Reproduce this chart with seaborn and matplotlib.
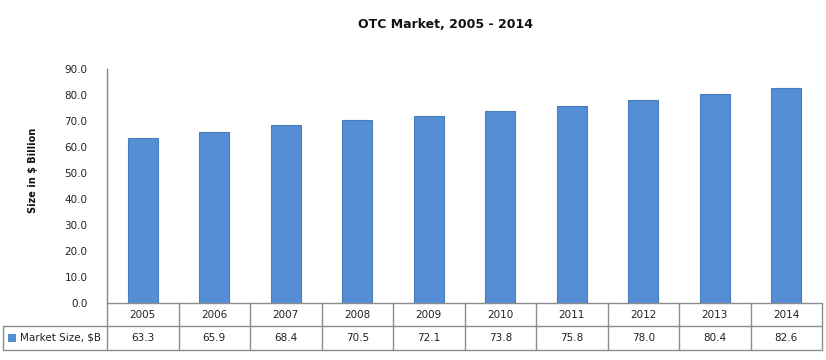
import matplotlib
matplotlib.use("Agg")
import matplotlib.pyplot as plt
import matplotlib.transforms as mtransforms
from matplotlib.patches import Rectangle
import seaborn as sns
import pandas as pd

years = ["2005", "2006", "2007", "2008", "2009", "2010", "2011", "2012", "2013", "2014"]
market_size = [63.3, 65.9, 68.4, 70.5, 72.1, 73.8, 75.8, 78.0, 80.4, 82.6]
series_name = "Market Size, $B"
title = "OTC Market, 2005 - 2014"
ylabel = "Size in $ Billion"
yticks = [0, 10, 20, 30, 40, 50, 60, 70, 80, 90]

sns.set_style("white")
plt.rcParams['font.family'] = ['DejaVu Sans']

W, H = 826, 360
fig = plt.figure(figsize=(W / 100, H / 100), dpi=100)
left_px, right_px, top_px, bot_px = 107, 822, 69, 303
ax = fig.add_axes([left_px / W, 1 - bot_px / H, (right_px - left_px) / W, (bot_px - top_px) / H])

df = pd.DataFrame({"year": years, "value": market_size})
bar_color = "#558ED5"
sns.barplot(data=df, x="year", y="value", color=bar_color, width=0.42, ax=ax,
            saturation=1, edgecolor="#4A7EBB", linewidth=0.8)
ax.set_xlim(-0.5, len(years) - 0.5)
ax.set_ylim(0, 90)
ax.set_yticks(yticks)
ax.set_yticklabels([f"{v:.1f}" for v in yticks], fontsize=7.5, color="#222222")
ax.tick_params(axis="y", length=0, pad=14)
ax.set_xticks([])
ax.set_xlabel("")
ax.set_ylabel("")
for s in ["top", "right", "bottom"]:
    ax.spines[s].set_visible(False)
ax.spines["left"].set_color("#868686")
ax.spines["left"].set_linewidth(1)

# y label
fig.text(33 / W, 1 - 170 / H, ylabel, rotation=90, ha="center", va="center",
         fontsize=7, fontweight="bold", color="#111111")

# title
fig.text(446 / W, 1 - 24 / H, title, ha="center", va="center",
         fontsize=9, fontweight="bold", color="#111111")

# data table
ax_h = bot_px - top_px
row1 = -(326 - bot_px) / ax_h
row2 = -(350 - bot_px) / ax_h
trans = mtransforms.blended_transform_factory(ax.transData, ax.transAxes)
line_kw = dict(color="#8C8C8C", linewidth=1, clip_on=False, transform=trans)
n = len(years)
x_left_cell = -0.5 - (left_px - 3) / ((right_px - left_px) / n)
# horizontal lines
ax.plot([-0.5, n - 0.5], [0, 0], **line_kw)
ax.plot([x_left_cell, n - 0.5], [row1, row1], **line_kw)
ax.plot([x_left_cell, n - 0.5], [row2, row2], **line_kw)
# vertical lines
for i in range(n + 1):
    ax.plot([i - 0.5, i - 0.5], [0, row2], **line_kw)
ax.plot([x_left_cell, x_left_cell], [row1, row2], **line_kw)
# texts
for i, (yr, v) in enumerate(zip(years, market_size)):
    ax.text(i, row1 / 2, yr, ha="center", va="center", fontsize=7.5,
            color="#222222", transform=trans, clip_on=False)
    ax.text(i, (row1 + row2) / 2, f"{v:.1f}", ha="center", va="center",
            fontsize=7.5, color="#222222", transform=trans, clip_on=False)
# legend key in table
fig.patches.append(Rectangle((8 / W, 1 - 342 / H), 8 / W, 8 / H, facecolor=bar_color,
                             edgecolor="none", transform=fig.transFigure))
fig.text(20 / W, 1 - 338 / H, series_name, ha="left", va="center", fontsize=7.5,
         color="#222222")

fig.savefig("out.png", dpi=100)
